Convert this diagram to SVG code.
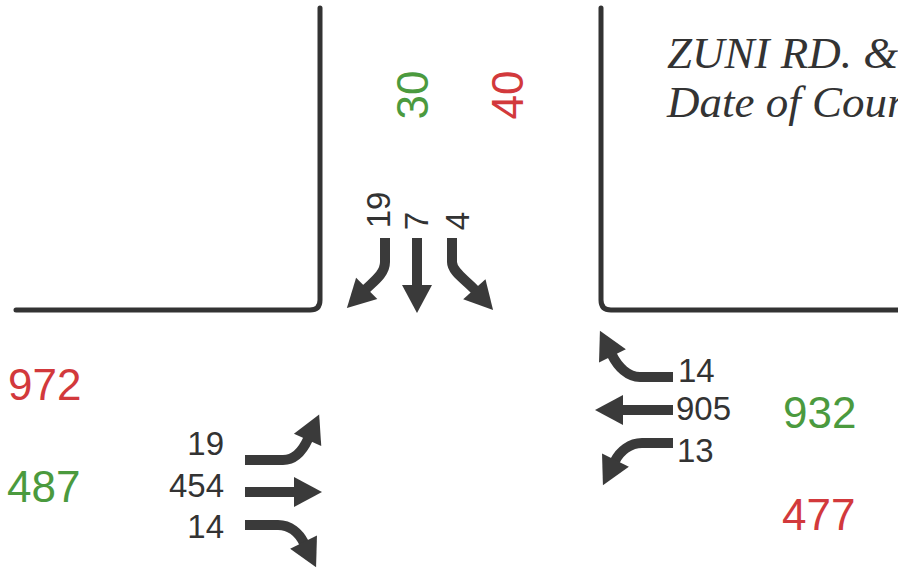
<svg xmlns="http://www.w3.org/2000/svg" width="898" height="571" viewBox="0 0 898 571">
  <style>
    .curb { fill: none; stroke: #333333; stroke-width: 5; stroke-linecap: round; stroke-linejoin: round; }
    .shaft { fill: none; stroke: #3a3a3a; stroke-width: 10; marker-end: url(#head); }
    .vol { font-family: "Liberation Sans", Arial, sans-serif; font-size: 33px; fill: #333333; }
    .total { font-family: "Liberation Sans", Arial, sans-serif; font-size: 44px; }
    .in { fill: #4b9a3e; }
    .out { fill: #d2393c; }
    .title { font-family: "Liberation Serif", "Times New Roman", serif; font-style: italic; font-size: 45px; fill: #333333; }
  </style>
  <defs>
    <marker id="head" markerUnits="userSpaceOnUse" markerWidth="32" markerHeight="34" viewBox="-2 -16 32 32" refX="1" refY="0" orient="auto">
      <path d="M0,-15 L28,0 L0,15 Z" fill="#3a3a3a"/>
    </marker>
  </defs>
  <rect width="898" height="571" fill="#ffffff"/>

  <!-- curb lines of the four corners -->
  <g id="curbs">
    <path class="curb" d="M320,8 V300 Q320,310 310,310 H16"/>
    <path class="curb" d="M601,8 V300 Q601,310 611,310 H898"/>
  </g>

  <!-- intersection name -->
  <g id="title">
    <text class="title" x="667" y="68">ZUNI RD. &amp;</text>
    <text class="title" x="667" y="117">Date of Cour</text>
  </g>

  <!-- approach / departure totals -->
  <g id="north-totals">
    <text class="total in" text-anchor="middle" transform="translate(428,95) rotate(-90)">30</text>
    <text class="total out" text-anchor="middle" transform="translate(523,95) rotate(-90)">40</text>
  </g>
  <g id="west-totals">
    <text class="total out" x="8" y="400">972</text>
    <text class="total in" x="7" y="502">487</text>
  </g>
  <g id="east-totals">
    <text class="total in" x="783" y="428">932</text>
    <text class="total out" x="782" y="530">477</text>
  </g>

  <!-- southbound movements -->
  <g id="southbound">
    <text class="vol" text-anchor="middle" transform="translate(390,210) rotate(-90)">19</text>
    <text class="vol" text-anchor="middle" transform="translate(428,221) rotate(-90)">7</text>
    <text class="vol" text-anchor="middle" transform="translate(469,221) rotate(-90)">4</text>
  </g>

  <!-- eastbound movements -->
  <g id="eastbound">
    <text class="vol" text-anchor="end" x="224" y="455">19</text>
    <text class="vol" text-anchor="end" x="224" y="497">454</text>
    <text class="vol" text-anchor="end" x="224" y="538">14</text>
  </g>

  <!-- westbound movements -->
  <g id="westbound">
    <text class="vol" x="678" y="382">14</text>
    <text class="vol" x="676" y="420">905</text>
    <text class="vol" x="677" y="462">13</text>
  </g>

  <!-- turning movement arrows -->
  <g id="connectors">
    <path class="shaft" d="M385,238 V262 C385,274 373,282 366,289"/>
    <path class="shaft" d="M417,238 V286"/>
    <path class="shaft" d="M452,238 V262 C452,272 466,280 475,290"/>

    <path class="shaft" d="M245,460 H283 C295,460 303,450 308,439"/>
    <path class="shaft" d="M245,492 H295"/>
    <path class="shaft" d="M245,525 H278 C290,525 299,533 304,543"/>

    <path class="shaft" d="M673,377 H640 C628,377 618,367 612,355"/>
    <path class="shaft" d="M673,410 H622"/>
    <path class="shaft" d="M673,443 H642 C630,443 620,451 615,461"/>
  </g>
</svg>
